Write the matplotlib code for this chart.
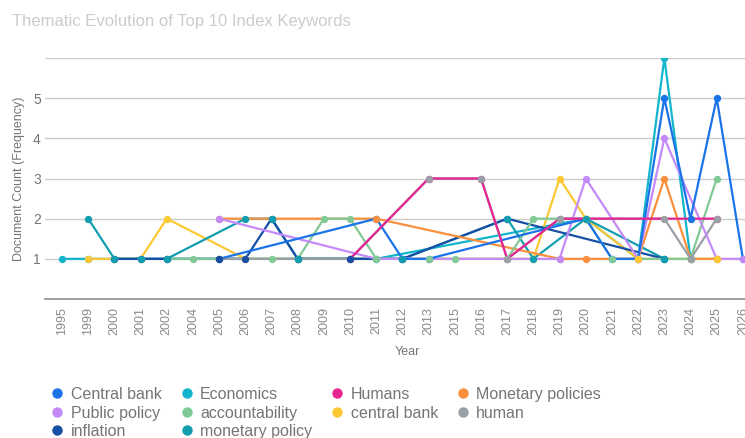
import matplotlib
matplotlib.use("Agg")
import matplotlib.pyplot as plt
import numpy as np
from matplotlib.lines import Line2D

plt.rcParams["font.family"] = ["Liberation Sans", "DejaVu Sans"]

N = None
YEARS = ["1995", "1999", "2000", "2001", "2002", "2004", "2005", "2006", "2007",
         "2008", "2009", "2010", "2011", "2012", "2013", "2015", "2016", "2017",
         "2018", "2019", "2020", "2021", "2022", "2023", "2024", "2025", "2026"]

# document counts per year, None = keyword absent that year
central_bank_cap = [N, N, N, N, N, N, 1, N, N, N, N, N, 2, 1, 1, N, N, N, N, N, 2, 1, 1, 5, 2, 5, 1]
economics = [1, 1, N, N, N, N, N, N, N, N, N, N, 1, N, N, N, N, N, N, N, 2, N, 1, 6, 1, N, N]
humans = [N, N, N, N, N, N, N, N, N, N, N, 1, N, N, 3, N, 3, 1, N, 2, N, N, N, N, N, 2, N]
monetary_policies = [N, N, N, N, N, N, 2, N, N, N, N, N, 2, N, N, N, N, N, N, 1, 1, N, 1, 3, 1, 1, N]
public_policy = [N, N, N, N, N, N, 2, N, N, N, N, N, 1, N, N, N, N, N, N, 1, 3, N, 1, 4, N, 1, 1]
accountability = [N, N, N, N, 1, 1, N, N, 1, 1, 2, 2, 1, N, 1, 1, N, 1, 2, 2, 2, 1, N, 1, 1, 3, N]
central_bank = [N, 1, 1, 1, 2, N, N, 1, N, N, N, N, N, N, N, N, N, N, 1, 3, 2, N, 1, N, N, 1, N]
human = [N, N, N, N, N, N, 1, N, N, 1, N, 1, N, N, 3, N, 3, 1, N, 2, N, N, N, 2, 1, 2, N]
inflation = [N, N, 1, 1, 1, N, 1, 1, 2, 1, N, 1, N, 1, N, N, N, 2, N, N, N, N, N, 1, N, N, N]
monetary_policy = [N, 2, 1, 1, 1, N, N, 2, 2, 1, N, N, N, 1, N, N, N, 2, 1, N, 2, N, N, 1, N, N, N]

SERIES = [
    ("Central bank", central_bank_cap, "#1a73e8"),
    ("Economics", economics, "#12b5cb"),
    ("Humans", humans, "#e52592"),
    ("Monetary policies", monetary_policies, "#fa903e"),
    ("Public policy", public_policy, "#c58af9"),
    ("accountability", accountability, "#81c995"),
    ("central bank", central_bank, "#fcc934"),
    ("human", human, "#9aa0a6"),
    ("inflation", inflation, "#174ea6"),
    ("monetary policy", monetary_policy, "#129eaf"),
]

# which line sits on top where several overlap
LINE_Z = {"Economics": 2, "central bank": 3, "monetary policy": 4, "inflation": 5,
          "Monetary policies": 6, "accountability": 7, "human": 8,
          "Public policy": 9, "Central bank": 10, "Humans": 11}

fig = plt.figure(figsize=(7.45, 4.38), dpi=100)
ax = fig.add_axes([45 / 745, 1 - 299 / 438, 700 / 745, 241 / 438])

for i, (name, vals, color) in enumerate(SERIES):
    idx = [k for k, v in enumerate(vals) if v is not None]
    ys = [vals[k] for k in idx]
    ax.plot(idx, ys, color=color, lw=1.6, zorder=LINE_Z[name],
            solid_joinstyle="round", solid_capstyle="round")
    ax.scatter(idx, ys, s=28, color=color, linewidths=0, zorder=20 + i)

ax.set_xlim(-0.65, 26.08)
ax.set_ylim(0, 6)
ax.set_xticks(np.arange(len(YEARS)), YEARS, rotation=90)
ax.set_yticks(range(7), ["", "1", "2", "3", "4", "5", ""])
ax.yaxis.grid(True, color="#cccccc", lw=1)
ax.set_axisbelow(True)
for side in ("top", "right", "left"):
    ax.spines[side].set_visible(False)
ax.spines["bottom"].set_color("#9e9e9e")
ax.spines["bottom"].set_linewidth(1.4)
ax.spines["bottom"].set_zorder(1)
ax.tick_params(axis="x", length=0, pad=6, labelsize=9, labelcolor="#8a8a8a")
ax.tick_params(axis="y", length=0, pad=3, labelsize=10, labelcolor="#757575")

ax.set_ylabel("Document Count (Frequency)", fontsize=9, color="#757575")
ax.yaxis.set_label_coords(-0.029, 0.5)
ax.set_xlabel("Year", fontsize=9, color="#757575")
ax.xaxis.set_label_coords(0.517, -0.195)

fig.text(12 / 745, 1 - 26 / 438, "Thematic Evolution of Top 10 Index Keywords",
         fontsize=12, color="#cccccc", va="baseline", ha="left")

# legend is laid out row by row in the original, matplotlib fills columns
order = [0, 4, 8, 1, 5, 9, 2, 6, 3, 7]
handles = [Line2D([], [], ls="", marker="o", markersize=7.5,
                  markerfacecolor=SERIES[k][2], markeredgewidth=0) for k in order]
labels = [SERIES[k][0] for k in order]
leg = fig.legend(handles, labels, loc="upper left", bbox_to_anchor=(51 / 745, 1 - 387 / 438),
                 ncol=4, frameon=False, fontsize=11.5, handlelength=0.8,
                 handletextpad=0.45, columnspacing=1.15, labelspacing=0.22, borderpad=0,
                 borderaxespad=0)
for t in leg.get_texts():
    t.set_color("#757575")

fig.savefig("out.png", dpi=100)
